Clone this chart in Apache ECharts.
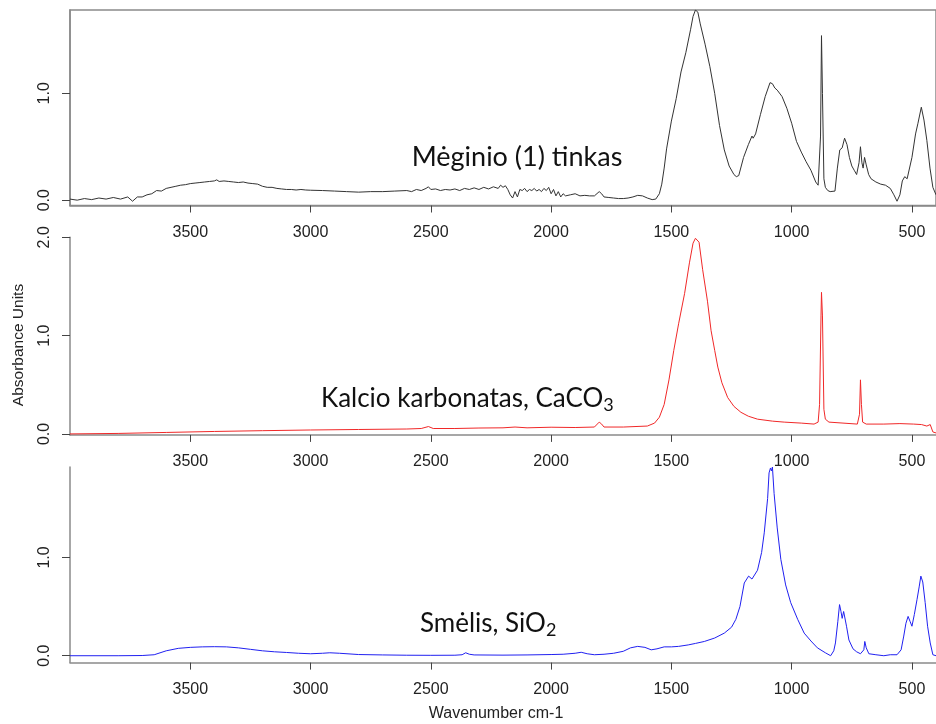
<!DOCTYPE html>
<html>
<head>
<meta charset="utf-8">
<script src="https://cdn.jsdelivr.net/npm/echarts@6/dist/echarts.min.js"></script>
<style>html,body{margin:0;padding:0;background:#fff}#c{width:936px;height:724px}</style>
</head>
<body>
<div id="c"></div>
<script>
// ---- Data ----
const xTicks = [500, 1000, 1500, 2000, 2500, 3000, 3500];
const yTicksTop = [0, 1];
const yTicksMid = [0, 1, 2];
const yTicksBot = [0, 1];

const tinkasWn = [4000,3970,3940,3910,3880,3850,3820,3790,3760,3740,3720,3700,3680,3660,3640,3620,3600,3580,3560,3540,3520,3500,3480,3460,3440,3420,3400,3390,3380,3360,3340,3320,3300,3280,3260,3240,3220,3200,3180,3160,3140,3120,3100,3080,3060,3040,3020,3000,2950,2900,2850,2800,2750,2700,2650,2600,2580,2560,2540,2520,2510,2500,2480,2460,2440,2420,2400,2380,2360,2340,2320,2300,2280,2260,2240,2220,2210,2200,2190,2180,2170,2160,2150,2140,2130,2120,2110,2100,2090,2080,2070,2060,2050,2040,2030,2020,2010,2000,1990,1980,1970,1960,1950,1940,1920,1900,1880,1860,1840,1820,1800,1790,1780,1760,1740,1720,1700,1680,1660,1640,1620,1600,1580,1565,1550,1540,1530,1520,1500,1480,1460,1440,1420,1410,1400,1390,1380,1360,1340,1320,1300,1280,1260,1240,1230,1220,1200,1180,1165,1160,1150,1130,1110,1090,1080,1070,1060,1040,1020,1000,980,960,940,920,900,890,884,880,876,872,866,860,850,840,820,810,800,790,780,770,760,750,740,730,720,714,708,703,697,690,680,670,650,630,610,590,575,562,550,540,530,520,512,500,485,475,461,450,438,425,413,400];
const tinkasAbs = [0.01,0.0,0.015,0.005,0.02,0.01,0.025,0.01,0.03,-0.01,0.03,0.03,0.05,0.06,0.09,0.085,0.11,0.12,0.13,0.14,0.145,0.155,0.16,0.165,0.17,0.175,0.18,0.19,0.175,0.18,0.175,0.17,0.165,0.17,0.16,0.155,0.15,0.13,0.12,0.12,0.11,0.105,0.1,0.1,0.095,0.1,0.095,0.093,0.09,0.085,0.08,0.075,0.08,0.08,0.085,0.09,0.08,0.1,0.09,0.11,0.125,0.1,0.105,0.09,0.1,0.095,0.105,0.09,0.11,0.1,0.115,0.1,0.12,0.105,0.125,0.11,0.14,0.12,0.135,0.1,0.05,0.02,0.08,0.03,0.1,0.09,0.11,0.08,0.1,0.09,0.11,0.085,0.1,0.08,0.11,0.09,0.12,0.06,0.1,0.04,0.08,0.03,0.06,0.04,0.05,0.06,0.04,0.045,0.04,0.04,0.08,0.06,0.03,0.025,0.02,0.015,0.015,0.02,0.03,0.045,0.04,0.02,0.005,0.01,0.06,0.15,0.3,0.48,0.74,0.95,1.2,1.38,1.6,1.72,1.78,1.76,1.65,1.46,1.25,1.0,0.7,0.47,0.32,0.24,0.22,0.23,0.4,0.52,0.6,0.58,0.62,0.8,0.97,1.1,1.09,1.05,1.03,0.97,0.86,0.72,0.55,0.45,0.36,0.28,0.17,0.14,0.13,0.6,1.54,1.0,0.2,0.12,0.09,0.08,0.085,0.3,0.47,0.49,0.58,0.52,0.4,0.32,0.28,0.24,0.35,0.5,0.35,0.3,0.4,0.33,0.24,0.2,0.17,0.15,0.14,0.11,0.05,-0.01,0.05,0.18,0.22,0.2,0.19,0.4,0.62,0.72,0.87,0.75,0.56,0.3,0.12,0.05];

const caco3Wn = [4000,3800,3600,3400,3200,3000,2800,2600,2540,2510,2490,2400,2300,2200,2150,2100,2000,1900,1820,1800,1790,1780,1700,1600,1570,1550,1530,1510,1490,1470,1445,1425,1410,1400,1394,1385,1370,1350,1335,1320,1307,1290,1266,1240,1211,1180,1142,1080,1031,960,907,890,884,878,876,872,866,860,852,845,838,727,718,714,710,705,690,617,550,493,460,438,424,413,400];
const caco3Abs = [0.0,0.005,0.015,0.025,0.033,0.04,0.045,0.05,0.055,0.075,0.055,0.055,0.06,0.062,0.07,0.062,0.068,0.065,0.07,0.12,0.1,0.07,0.07,0.08,0.11,0.17,0.3,0.55,0.85,1.12,1.43,1.74,1.94,1.99,2.0,1.95,1.67,1.35,1.05,0.85,0.68,0.52,0.37,0.28,0.22,0.18,0.15,0.13,0.12,0.11,0.1,0.12,0.3,1.2,1.44,1.2,0.25,0.15,0.16,0.12,0.1,0.1,0.2,0.55,0.3,0.12,0.1,0.1,0.105,0.1,0.095,0.08,0.095,0.02,0.01];

const sio2Wn = [4000,3800,3700,3650,3600,3550,3500,3450,3400,3350,3300,3250,3200,3150,3100,3050,3000,2950,2920,2880,2800,2700,2600,2500,2400,2370,2355,2340,2320,2200,2100,2000,1950,1900,1875,1850,1820,1780,1740,1700,1670,1640,1610,1584,1560,1530,1500,1470,1430,1400,1363,1320,1280,1250,1232,1215,1197,1179,1165,1160,1142,1125,1114,1100,1094,1088,1084,1080,1073,1060,1045,1025,1004,975,948,920,893,860,838,825,818,808,801,795,790,784,780,772,762,745,730,714,700,696,690,679,650,617,590,562,545,534,525,516,508,500,490,479,470,463,455,445,435,424,413,400];
const sio2Abs = [0.0,0.0,0.002,0.01,0.05,0.075,0.085,0.09,0.092,0.09,0.08,0.065,0.05,0.04,0.033,0.025,0.02,0.025,0.03,0.025,0.012,0.008,0.005,0.004,0.005,0.01,0.03,0.015,0.008,0.006,0.008,0.012,0.015,0.025,0.035,0.02,0.01,0.015,0.025,0.045,0.08,0.095,0.085,0.06,0.07,0.09,0.09,0.095,0.11,0.125,0.145,0.18,0.23,0.29,0.37,0.5,0.74,0.81,0.78,0.78,0.87,1.05,1.25,1.6,1.86,1.91,1.88,1.92,1.65,1.3,0.98,0.72,0.54,0.37,0.23,0.15,0.08,0.03,0.0,0.05,0.13,0.35,0.52,0.45,0.38,0.45,0.45,0.3,0.16,0.07,0.04,0.02,0.06,0.145,0.08,0.02,0.01,0.0,0.01,0.01,0.06,0.2,0.33,0.4,0.35,0.3,0.42,0.57,0.7,0.81,0.75,0.54,0.3,0.13,0.01,0.0];

// ---- Chart ----
const pair = (wn, ab) => wn.map((w, i) => [w, ab[i]]);
const axisGray = '#8a8a8a';
const labelFont = {fontFamily: 'Liberation Sans', fontSize: 16, color: '#222'};

function xAxisFor(gi) {
  return {
    type: 'value', gridIndex: gi, min: 400, max: 4000, inverse: true,
    axisLine: {show: true, onZero: false, lineStyle: {color: axisGray, width: 1.5}},
    axisTick: {show: true, length: 7, customValues: xTicks, lineStyle: {color: '#444'}},
    axisLabel: Object.assign({customValues: xTicks, margin: 19, formatter: v => String(v)}, labelFont),
    splitLine: {show: false}
  };
}
function yAxisFor(gi, mn, mx, ticks) {
  return {
    type: 'value', gridIndex: gi, min: mn, max: mx,
    axisLine: {show: true, onZero: false, lineStyle: {color: axisGray, width: 1.5}},
    axisTick: {show: true, length: 8, customValues: ticks, lineStyle: {color: '#444'}},
    axisLabel: Object.assign({customValues: ticks, rotate: 90, margin: 17, formatter: v => v.toFixed(1)}, labelFont),
    splitLine: {show: false}
  };
}

const textFont = 'Lato';
const chart = echarts.init(document.getElementById('c'), null, {renderer: 'canvas'});
chart.setOption({
  animation: false,
  backgroundColor: '#fff',
  grid: [
    {left: 70, top: 10, width: 869, height: 195.5, show: true, borderColor: axisGray, borderWidth: 1.5, backgroundColor: 'transparent'},
    {left: 70, top: 237.3, width: 869, height: 197.6},
    {left: 70, top: 467, width: 869, height: 195.6}
  ],
  xAxis: [xAxisFor(0), xAxisFor(1), xAxisFor(2)],
  yAxis: [yAxisFor(0, -0.05, 1.78, yTicksTop), yAxisFor(1, -0.01, 2.0, yTicksMid), yAxisFor(2, -0.07, 1.92, yTicksBot)],
  series: [
    {type: 'line', xAxisIndex: 0, yAxisIndex: 0, data: pair(tinkasWn, tinkasAbs), showSymbol: false, lineStyle: {color: '#333', width: 1}, clip: true},
    {type: 'line', xAxisIndex: 1, yAxisIndex: 1, data: pair(caco3Wn, caco3Abs), showSymbol: false, lineStyle: {color: '#f02828', width: 1}, clip: true},
    {type: 'line', xAxisIndex: 2, yAxisIndex: 2, data: pair(sio2Wn, sio2Abs), showSymbol: false, lineStyle: {color: '#2020f0', width: 1}, clip: true}
  ],
  graphic: [
    {type: 'text', style: {text: 'Mėginio (1) tinkas', x: 517, y: 157, align: 'center', verticalAlign: 'middle', fontFamily: textFont, fontSize: 27, fill: '#111'}},
    {type: 'text', style: {
      text: '{m|Kalcio karbonatas, CaCO}{s|3}', x: 321, y: 384, align: 'left',
      rich: {m: {fontFamily: textFont, fontSize: 26, lineHeight: 30, fill: '#111'}, s: {fontFamily: textFont, fontSize: 18, lineHeight: 17, verticalAlign: 'bottom', fill: '#111'}}
    }},
    {type: 'text', style: {
      text: '{m|Smėlis, SiO}{s|2}', x: 420, y: 609, align: 'left',
      rich: {m: {fontFamily: textFont, fontSize: 26, lineHeight: 30, fill: '#111'}, s: {fontFamily: textFont, fontSize: 18, lineHeight: 17, verticalAlign: 'bottom', fill: '#111'}}
    }},
    {type: 'text', rotation: Math.PI / 2, x: 19, y: 345, style: {text: 'Absorbance Units', align: 'center', verticalAlign: 'middle', fontFamily: 'Liberation Sans', fontSize: 15.5, fill: '#222'}},
    {type: 'text', style: {text: 'Wavenumber cm-1', x: 496, y: 714, align: 'center', verticalAlign: 'middle', fontFamily: 'Liberation Sans', fontSize: 16, fill: '#222'}}
  ]
});
</script>
</body>
</html>
